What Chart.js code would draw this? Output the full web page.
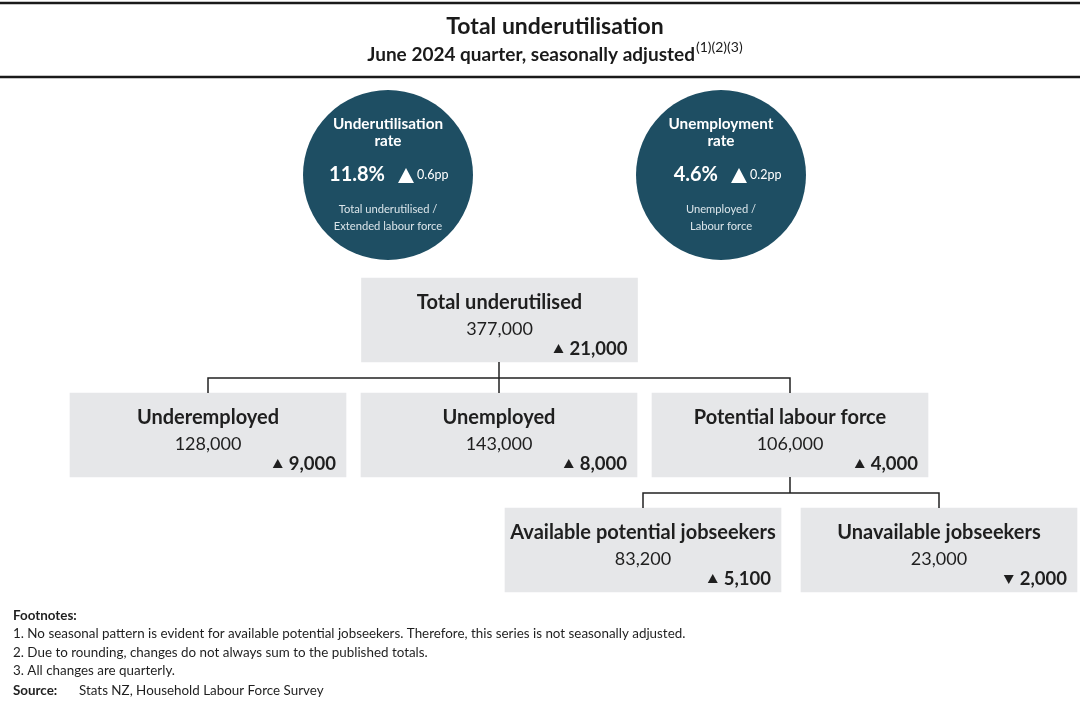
<!DOCTYPE html>
<html><head><meta charset="utf-8">
<script src="https://cdn.jsdelivr.net/npm/chart.js@4"></script>
<style>html,body{margin:0;padding:0;background:#fff}canvas{display:block}</style>
</head><body>
<canvas id="c" width="1080" height="709"></canvas>
<script>
// ---------- data ----------
const titleText = 'Total underutilisation';
const subtitleText = 'June 2024 quarter, seasonally adjusted';
const subtitleNotes = '(1)(2)(3)';
const rateTitles = [['Underutilisation', 'rate'], ['Unemployment', 'rate']];
const rateValues = [11.8, 4.6];
const rateChanges = [0.6, 0.2];
const rateDefinitions = [['Total underutilised /', 'Extended labour force'], ['Unemployed /', 'Labour force']];
const boxLabels = ['Total underutilised', 'Underemployed', 'Unemployed', 'Potential labour force', 'Available potential jobseekers', 'Unavailable jobseekers'];
const boxValues = [377000, 128000, 143000, 106000, 83200, 23000];
const boxChanges = [21000, 9000, 8000, 4000, 5100, -2000];
const footnoteTitle = 'Footnotes:';
const footnotes = [
  '1. No seasonal pattern is evident for available potential jobseekers. Therefore, this series is not seasonally adjusted.',
  '2. Due to rounding, changes do not always sum to the published totals.',
  '3. All changes are quarterly.'
];
const sourceLabel = 'Source:';
const sourceText = 'Stats NZ, Household Labour Force Survey';

// ---------- layout (pixel space of the hidden axes) ----------
const FONT = 'Lato, "Noto Sans", sans-serif';
const circleCentres = [[388, 175], [721, 175]];
const circleRadius = 85;
const boxCentres = [[499.5, 320], [208, 435], [499, 435], [790, 435], [643, 550], [939, 550]];
const boxW = 276, boxH = 84;
const connectorPaths = [
  [[499, 362], [499, 393]],
  [[208, 393], [208, 378], [790, 378], [790, 393]],
  [[790, 477], [790, 493]],
  [[643, 508], [643, 493], [939, 493], [939, 508]]
];
const rulePaths = [[[0, 3], [1080, 3]], [[0, 77], [1080, 77]]];

const fmt = v => v.toLocaleString('en-US');

const textPlugin = {
  id: 'texts',
  afterDatasetsDraw(chart) {
    const ctx = chart.ctx, xs = chart.scales.x, ys = chart.scales.y;
    const X = v => xs.getPixelForValue(v), Y = v => ys.getPixelForValue(v);
    ctx.save();
    ctx.textBaseline = 'middle';
    // title
    ctx.fillStyle = '#1a1a1a';
    ctx.textAlign = 'center';
    ctx.font = 'bold 23px ' + FONT;
    ctx.fillText(titleText, X(555), Y(27));
    ctx.font = 'bold 19px ' + FONT;
    const sw = ctx.measureText(subtitleText).width;
    ctx.font = '14px ' + FONT;
    const nw = ctx.measureText(subtitleNotes).width;
    const sx = X(555) - (sw + nw + 1) / 2;
    ctx.textAlign = 'left';
    ctx.font = 'bold 19px ' + FONT;
    ctx.fillText(subtitleText, sx, Y(55));
    ctx.font = '14px ' + FONT;
    ctx.fillText(subtitleNotes, sx + sw + 1, Y(47));

    // circles
    circleCentres.forEach((c, i) => {
      const cx = X(c[0]), cy = Y(c[1]);
      ctx.fillStyle = '#ffffff';
      ctx.textAlign = 'center';
      ctx.font = 'bold 15.3px ' + FONT;
      ctx.fillText(rateTitles[i][0], cx, cy - 51);
      ctx.fillText(rateTitles[i][1], cx, cy - 34);
      ctx.font = 'bold 20px ' + FONT;
      ctx.textAlign = 'right';
      ctx.fillText(rateValues[i].toFixed(1) + '%', cx - 3, cy);
      ctx.beginPath();
      ctx.moveTo(cx + 10, cy + 8);
      ctx.lineTo(cx + 26, cy + 8);
      ctx.lineTo(cx + 18, cy - 7);
      ctx.closePath();
      ctx.fill();
      ctx.textAlign = 'left';
      ctx.font = '12.5px ' + FONT;
      ctx.fillText(rateChanges[i].toFixed(1) + 'pp', cx + 29, cy);
      ctx.textAlign = 'center';
      ctx.fillStyle = '#dbe5ea';
      ctx.font = '11.2px ' + FONT;
      ctx.fillText(rateDefinitions[i][0], cx, cy + 34);
      ctx.fillText(rateDefinitions[i][1], cx, cy + 51);
    });

    // boxes
    boxCentres.forEach((c, i) => {
      const cx = X(c[0]), top = Y(c[1] - boxH / 2), right = X(c[0] + boxW / 2);
      ctx.fillStyle = '#1f1f1f';
      ctx.textAlign = 'center';
      ctx.font = 'bold 20px ' + FONT;
      ctx.fillText(boxLabels[i], cx, top + 25);
      ctx.font = '18px ' + FONT;
      ctx.fillText(fmt(boxValues[i]), cx, top + 51);
      ctx.textAlign = 'right';
      ctx.font = 'bold 18.5px ' + FONT;
      const t = fmt(Math.abs(boxChanges[i]));
      const tx = right - 10, ty = top + 71;
      ctx.fillText(t, tx, ty);
      const w = ctx.measureText(t).width;
      const tr = tx - w - 6, tl = tr - 10;
      ctx.beginPath();
      if (boxChanges[i] >= 0) {
        ctx.moveTo(tl, ty + 4); ctx.lineTo(tr, ty + 4); ctx.lineTo((tl + tr) / 2, ty - 5);
      } else {
        ctx.moveTo(tl, ty - 4); ctx.lineTo(tr, ty - 4); ctx.lineTo((tl + tr) / 2, ty + 5);
      }
      ctx.closePath();
      ctx.fill();
    });

    // footnotes
    ctx.textAlign = 'left';
    ctx.fillStyle = '#1f1f1f';
    ctx.font = 'bold 13.4px ' + FONT;
    ctx.fillText(footnoteTitle, X(13), Y(616));
    ctx.font = '13.4px ' + FONT;
    footnotes.forEach((f, i) => ctx.fillText(f, X(13), Y(634 + i * 18.5)));
    ctx.font = 'bold 13.4px ' + FONT;
    ctx.fillText(sourceLabel, X(13), Y(691));
    ctx.font = '13.4px ' + FONT;
    ctx.fillText(sourceText, X(79), Y(691));
    ctx.restore();
  }
};

const lineSets = [];
connectorPaths.forEach(p => lineSets.push({ type: 'line', data: p.map(pt => ({x: pt[0], y: pt[1]})),
  borderColor: '#222', borderWidth: 1.5, pointRadius: 0, fill: false, tension: 0, order: 1 }));
rulePaths.forEach(p => lineSets.push({ type: 'line', data: p.map(pt => ({x: pt[0], y: pt[1]})),
  borderColor: '#1a1a1a', borderWidth: 2.5, pointRadius: 0, fill: false, tension: 0, order: 1 }));

new Chart(document.getElementById('c'), {
  data: {
    datasets: [
      { type: 'bubble', data: circleCentres.map(c => ({x: c[0], y: c[1], r: circleRadius})),
        backgroundColor: '#1e4e63', borderWidth: 0, hoverRadius: 0, order: 3, clip: false },
      { type: 'bar', data: boxCentres.map(c => ({x: c[0], y: [c[1] - boxH / 2, c[1] + boxH / 2]})),
        backgroundColor: '#e6e7e9', borderWidth: 0, barThickness: boxW, order: 2, clip: false },
      ...lineSets
    ]
  },
  options: {
    responsive: false,
    animation: false,
    layout: { padding: 0, autoPadding: false },
    events: [],
    plugins: { legend: { display: false }, tooltip: { enabled: false } },
    scales: {
      x: { type: 'linear', min: 0, max: 1080, display: false, offset: false, grid: { offset: false } },
      y: { type: 'linear', min: 0, max: 709, reverse: true, display: false }
    }
  },
  plugins: [textPlugin]
});
</script>
</body></html>
